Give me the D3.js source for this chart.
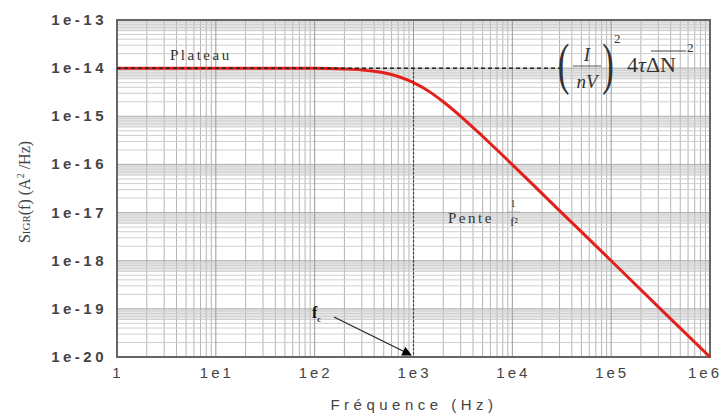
<!DOCTYPE html>
<html>
<head>
<meta charset="UTF-8">
<title>Bruit GR</title>
<script src="https://d3js.org/d3.v7.min.js"></script>
<style>
  body { margin: 0; background: #fff; }
  .tick-lbl { font-family: "Liberation Sans", Arial, sans-serif; font-size: 15px; font-weight: bold; fill: #444; letter-spacing: 3.5px; }
  .serif { font-family: "Liberation Serif", "Times New Roman", serif; }
</style>
</head>
<body>
<svg id="viz" width="725" height="416"></svg>
<script>
// axis decades and labels
var xTicks = [1, 1e1, 1e2, 1e3, 1e4, 1e5, 1e6];
var xLabels = ["1", "1e1", "1e2", "1e3", "1e4", "1e5", "1e6"];
var yTicks = [1e-20, 1e-19, 1e-18, 1e-17, 1e-16, 1e-15, 1e-14, 1e-13];
var yLabels = ["1e-20", "1e-19", "1e-18", "1e-17", "1e-16", "1e-15", "1e-14", "1e-13"];

// spectrum
var freq = [1, 10, 100, 200, 300, 500, 700, 1000, 1500, 2000, 3000, 5000, 1e4, 3e4, 1e5, 3e5, 1e6];
var sgr  = [1e-14, 1e-14, 0.99e-14, 0.96e-14, 0.92e-14, 0.8e-14, 0.67e-14, 5e-15, 3.1e-15, 2e-15,
            1e-15, 3.85e-16, 9.9e-17, 1.1e-17, 1e-18, 1.1e-19, 1e-20];

var plateau = 1e-14, fc = 1e3, dashEnd = 3.3e4;

var svg = d3.select("#viz"),
    margin = {top: 20, right: 15, bottom: 59, left: 117},
    width = 725 - margin.left - margin.right,
    height = 416 - margin.top - margin.bottom,
    g = svg.append("g").attr("transform", "translate(" + margin.left + "," + margin.top + ")");

var x = d3.scaleLog().domain([1, 1e6]).range([0, width]);
var y = d3.scaleLog().domain([1e-20, 1e-13]).range([height, 0]);

// grey bands near each decade
yTicks.slice(1).forEach(function(t) {
  g.append("rect")
    .attr("x", 0).attr("width", width)
    .attr("y", y(t)).attr("height", y(t * 0.6) - y(t))
    .attr("fill", "#e6e6e6");
});

// minor grid
var xMinor = [], yMinor = [];
xTicks.slice(0, -1).forEach(function(t) { for (var k = 2; k < 10; k++) xMinor.push(t * k); });
yTicks.slice(0, -1).forEach(function(t) { for (var k = 2; k < 10; k++) yMinor.push(t * k); });

g.selectAll(".vmin").data(xMinor).enter().append("line")
  .attr("x1", function(d) { return x(d); }).attr("x2", function(d) { return x(d); })
  .attr("y1", 0).attr("y2", height)
  .attr("stroke", "#b5b5b5").attr("stroke-width", 1);
g.selectAll(".hmin").data(yMinor).enter().append("line")
  .attr("y1", function(d) { return y(d); }).attr("y2", function(d) { return y(d); })
  .attr("x1", 0).attr("x2", width)
  .attr("stroke", "#cfcfcf").attr("stroke-width", 1);
g.selectAll(".vmaj").data(xTicks).enter().append("line")
  .attr("x1", function(d) { return x(d); }).attr("x2", function(d) { return x(d); })
  .attr("y1", 0).attr("y2", height)
  .attr("stroke", "#999").attr("stroke-width", 1);
g.selectAll(".hmaj").data(yTicks).enter().append("line")
  .attr("y1", function(d) { return y(d); }).attr("y2", function(d) { return y(d); })
  .attr("x1", 0).attr("x2", width)
  .attr("stroke", "#aaa").attr("stroke-width", 1);

// frame
g.append("rect").attr("width", width).attr("height", height)
  .attr("fill", "none").attr("stroke", "#666").attr("stroke-width", 2);

// curve
var line = d3.line()
  .x(function(d) { return x(d[0]); })
  .y(function(d) { return y(d[1]); })
  .curve(d3.curveMonotoneX);
g.append("path")
  .datum(freq.map(function(f, i) { return [f, sgr[i]]; }))
  .attr("d", line)
  .attr("fill", "none").attr("stroke", "#e3201c").attr("stroke-width", 3);

// dashed guides
g.append("line")
  .attr("x1", x(1)).attr("x2", x(dashEnd))
  .attr("y1", y(plateau)).attr("y2", y(plateau))
  .attr("stroke", "#222").attr("stroke-width", 1.5).attr("stroke-dasharray", "4,3");
g.append("line")
  .attr("x1", x(fc)).attr("x2", x(fc))
  .attr("y1", y(plateau)).attr("y2", height)
  .attr("stroke", "#333").attr("stroke-width", 1.2).attr("stroke-dasharray", "2,2");

// tick labels
g.selectAll(".xl").data(xTicks).enter().append("text")
  .attr("class", "tick-lbl")
  .attr("x", function(d) { return Math.min(x(d) + 1, width - 5); })
  .attr("y", height + 21)
  .attr("text-anchor", "middle")
  .style("font-weight", "normal").style("letter-spacing", "3px")
  .text(function(d, i) { return xLabels[i]; });
g.selectAll(".yl").data(yTicks).enter().append("text")
  .attr("class", "tick-lbl")
  .attr("x", -10)
  .attr("y", function(d) { return y(d) + 5; })
  .attr("text-anchor", "end")
  .text(function(d, i) { return yLabels[i]; });

// axis titles
svg.append("text")
  .attr("class", "tick-lbl")
  .attr("x", 414).attr("y", 410)
  .attr("text-anchor", "middle")
  .style("font-weight", "normal").style("letter-spacing", "4.5px")
  .text("Fréquence (Hz)");

var yt = svg.append("text")
  .attr("class", "serif")
  .attr("transform", "translate(30,192) rotate(-90)")
  .attr("text-anchor", "middle")
  .attr("fill", "#444")
  .style("font-size", "16px");
yt.append("tspan").text("S");
yt.append("tspan").style("font-size", "11px").text("IGR");
yt.append("tspan").text("(f) (A");
yt.append("tspan").attr("dy", -6).style("font-size", "10px").text("2");
yt.append("tspan").attr("dy", 6).text(" /Hz)");

// annotations
svg.append("text").attr("class", "serif")
  .attr("x", 170).attr("y", 60)
  .attr("fill", "#333").style("font-size", "15px").style("letter-spacing", "2.5px")
  .text("Plateau");

svg.append("text").attr("class", "serif")
  .attr("x", 448).attr("y", 223)
  .attr("fill", "#333").style("font-size", "15px").style("letter-spacing", "2.5px")
  .text("Pente");
svg.append("text").attr("class", "serif")
  .attr("x", 513).attr("y", 207)
  .attr("text-anchor", "middle").attr("fill", "#333").style("font-size", "10px").text("1");
svg.append("line").attr("x1", 507).attr("x2", 520).attr("y1", 212).attr("y2", 212)
  .attr("stroke", "#999").attr("stroke-width", 0.6);
svg.append("text").attr("class", "serif")
  .attr("x", 514).attr("y", 226)
  .attr("text-anchor", "middle").attr("fill", "#333").style("font-size", "12px").text("f²");

// fc arrow
var fcLbl = svg.append("text").attr("class", "serif")
  .attr("x", 312).attr("y", 318)
  .attr("fill", "#111").style("font-size", "16px").style("font-weight", "bold");
fcLbl.append("tspan").text("f");
fcLbl.append("tspan").attr("dy", 4).style("font-size", "8px").text("c");

svg.append("defs").append("marker")
  .attr("id", "arr").attr("viewBox", "0 0 10 10").attr("refX", 9).attr("refY", 5)
  .attr("markerWidth", 9).attr("markerHeight", 8).attr("orient", "auto")
  .append("path").attr("d", "M0,0L10,5L0,10Z").attr("fill", "#000");
svg.append("line")
  .attr("x1", 334).attr("y1", 317)
  .attr("x2", 411).attr("y2", 355)
  .attr("stroke", "#222").attr("stroke-width", 1.2)
  .attr("marker-end", "url(#arr)");

// formula
var form = svg.append("g").attr("class", "serif").attr("fill", "#333");
form.append("text").attr("x", 558).attr("y", 83).style("font-size", "58px")
  .attr("transform", "translate(223,0) scale(0.6,1)")
  .text("(");
form.append("text").attr("x", 587).attr("y", 61).attr("text-anchor", "middle")
  .style("font-size", "19px").style("font-style", "italic").text("I");
form.append("line").attr("x1", 573).attr("x2", 601).attr("y1", 66).attr("y2", 66)
  .attr("stroke", "#555").attr("stroke-width", 1);
form.append("text").attr("x", 587).attr("y", 88).attr("text-anchor", "middle")
  .style("font-size", "19px").style("font-style", "italic").text("nV");
form.append("text").attr("x", 602).attr("y", 83).style("font-size", "58px")
  .attr("transform", "translate(241,0) scale(0.6,1)")
  .text(")");
form.append("text").attr("x", 614).attr("y", 43).style("font-size", "13px").text("2");
var rhs = form.append("text").attr("x", 627).attr("y", 72).style("font-size", "22px");
rhs.append("tspan").text("4");
rhs.append("tspan").style("font-style", "italic").text("τ");
rhs.append("tspan").text("ΔN");
form.append("line").attr("x1", 651).attr("x2", 686).attr("y1", 51).attr("y2", 51)
  .attr("stroke", "#444").attr("stroke-width", 1);
form.append("text").attr("x", 687).attr("y", 52).style("font-size", "13px").text("2");
</script>
</body>
</html>
